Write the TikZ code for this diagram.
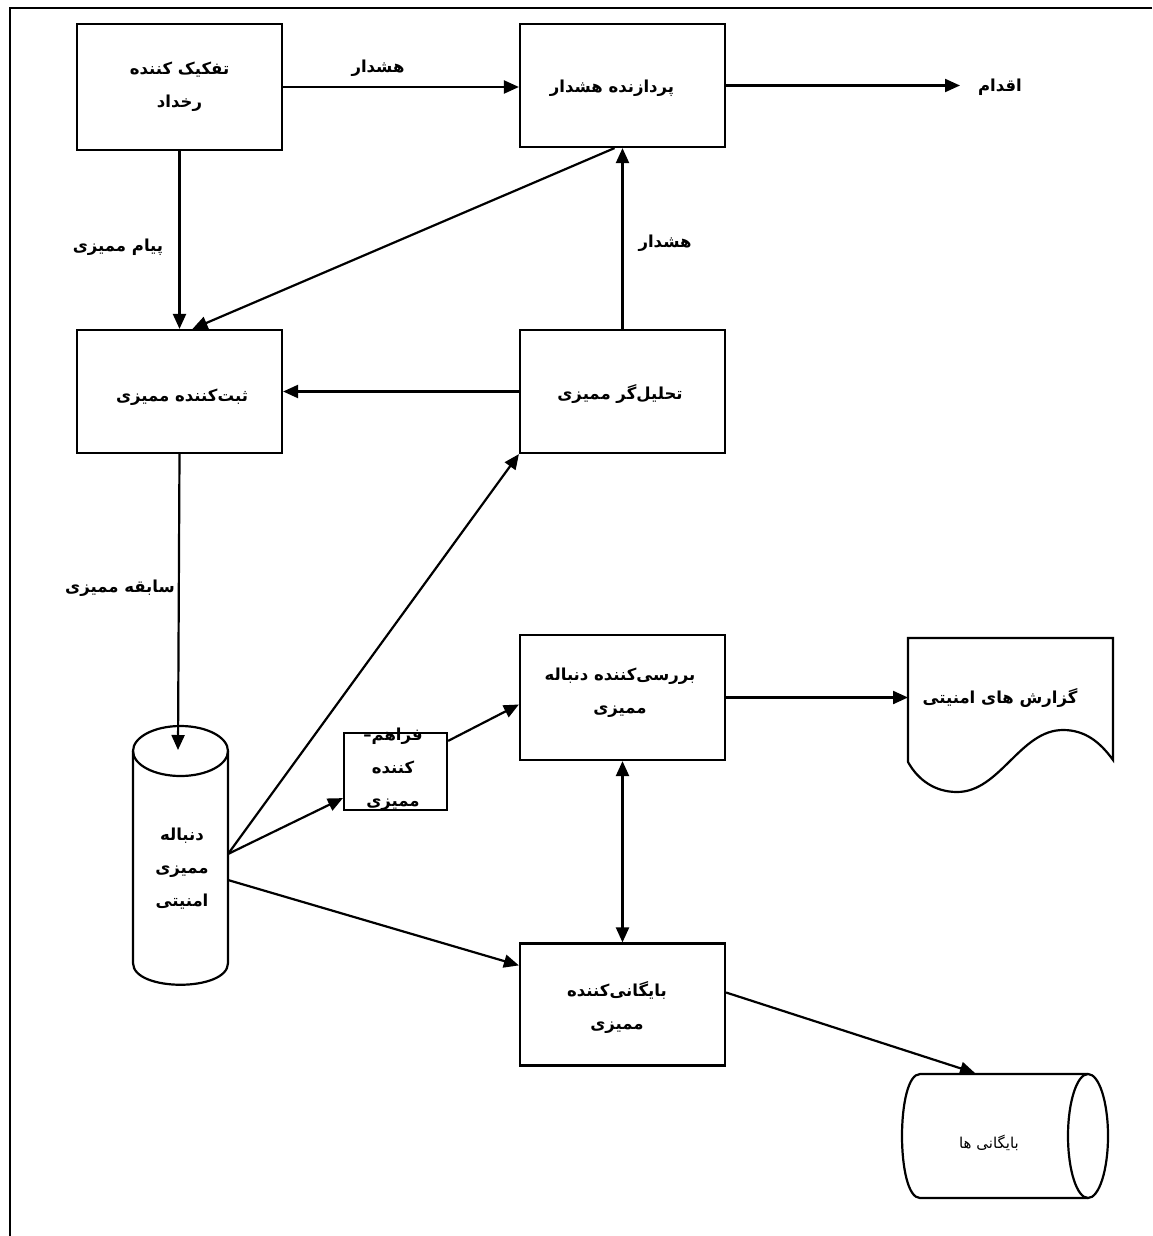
\documentclass[tikz,border=0pt]{standalone}
\usepackage{fontspec}
\newfontfamily\fa[Script=Arabic]{DejaVu Sans}
\TeXXeTstate=1
\usetikzlibrary{arrows.meta}
\tikzset{
  box/.style={draw, line width=2.2pt, minimum width=205pt, minimum height=123pt, inner sep=0pt},
  txt/.style={font=\fa\bfseries\fontsize{16.5}{33}\selectfont, inner sep=0pt, align=center},
  rtxt/.style={font=\fa\fontsize{15}{20}\selectfont, inner sep=0pt, align=center},
  conn/.style={line width=2.2pt, -{Triangle[length=15pt,width=13pt]}},
  dconn/.style={line width=2.2pt, {Triangle[length=15pt,width=13pt]}-{Triangle[length=15pt,width=13pt]}},
  shp/.style={line width=2.2pt}
}
\begin{document}
\begin{tikzpicture}[x=1pt,y=-1pt]
\useasboundingbox (0,0) rectangle (1152,1236);
% frame
\draw[line width=2.6pt] (1152,8) -- (10,8) -- (10,1236);

% boxes
\node[box, minimum height=126pt] (A) at (179.5,87) {};
\node[box] (B) at (622.5,85.5) {};
\node[box] (C) at (179.5,391.5) {};
\node[box] (D) at (622.5,391.5) {};
\node[box, minimum width=103pt, minimum height=77pt] (F) at (395.5,771.5) {};
\node[box, minimum height=125pt] (G) at (622.5,697.5) {};
\node[box, minimum height=122pt] (I) at (622.5,1004.5) {};

% security audit trail cylinder
\draw[shp] (133,751) -- (133,963) .. controls (133,992) and (228,992) .. (228,963) -- (228,751);
\draw[shp] (180.5,751) ellipse [x radius=47.5, y radius=25];
% reports document
\draw[shp] (908,762) -- (908,638) -- (1113,638) -- (1113,760)
  .. controls (1100,742) and (1085,730) .. (1063,730)
  .. controls (1020,730) and (1000,792) .. (957,792)
  .. controls (935,792) and (918,780) .. (908,762);
% archives cylinder
\draw[shp] (1088,1074) -- (920,1074) .. controls (896,1074) and (896,1198) .. (920,1198) -- (1088,1198);
\draw[shp] (1088,1136) ellipse [x radius=20, y radius=62];

% coordinates
\coordinate (actL) at (960,85.5);
\coordinate (trailTop) at (178,750);
\coordinate (trailR1) at (228,854);
\coordinate (trailR2) at (228,880);
\coordinate (repL) at (908,697.5);
\coordinate (archTop) at (975,1073);

% texts
\node[txt] (tA) at (179.5,87) {\beginR تفکیک کننده\endR\\\beginR رخداد\endR};
\node[txt] (tB) at (612,88) {\beginR پردازنده هشدار\endR};
\node[txt] (tAct) at (1000,87) {\beginR اقدام\endR};
\node[txt] (lab1) at (378,68) {\beginR هشدار\endR};
\node[txt] (lab2) at (118,247) {\beginR پیام ممیزی\endR};
\node[txt] (lab3) at (665,243) {\beginR هشدار\endR};
\node[txt] (tC) at (182,397) {\beginR ثبت^^^^200cکننده ممیزی\endR};
\node[txt] (tD) at (620,394) {\beginR تحلیل^^^^200cگر ممیزی\endR};
\node[txt] (lab4) at (120,588) {\beginR سابقه ممیزی\endR};
\node[txt] (tE) at (182,869) {\beginR دنباله\endR\\\beginR ممیزی\endR\\\beginR امنیتی\endR};
\node[txt] (tF) at (393,769) {\beginR فراهم–\endR\\\beginR کننده\endR\\\beginR ممیزی\endR};
\node[txt] (tG) at (620,693) {\beginR بررسی^^^^200cکننده دنباله\endR\\\beginR ممیزی\endR};
\node[txt] (tH) at (1000,698) {\beginR گزارش های امنیتی\endR};
\node[txt] (tI) at (617,1007) {\beginR بایگانی^^^^200cکننده\endR\\\beginR ممیزی\endR};
\node[rtxt] (tJ) at (989,1143) {\beginR بایگانی ها\endR};

% connectors
\draw[conn] (A.east) -- (A.east -| B.west);
\draw[conn] (B.east) -- (actL);
\draw[conn] (A.south) -- (C.north);
\draw[conn] ([xshift=-8pt]B.south) -- ([xshift=13pt]C.north);
\draw[conn] (D.north) -- (B.south);
\draw[conn] (D.west) -- (D.west -| C.east);
\draw[conn] (C.south) -- (trailTop);
\draw[conn] (trailR1) -- (D.south west);
\draw[conn] (trailR1) -- ([yshift=13pt]F.south west);
\draw[conn] ([yshift=-9pt]F.north east) -- ([yshift=-7pt]G.west);
\draw[conn] (G.east) -- (repL);
\draw[dconn] (G.south) -- (I.north);
\draw[conn] (trailR2) -- ([yshift=-23pt]I.north west);
\draw[conn] ([yshift=12pt]I.east) -- (archTop);
\end{tikzpicture}
\end{document}
